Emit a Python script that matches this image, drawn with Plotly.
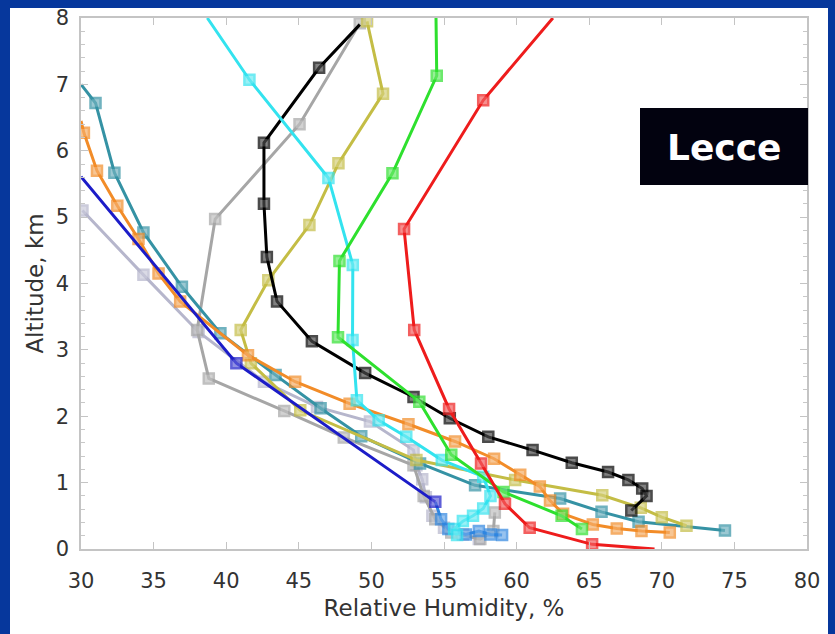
import plotly.graph_objects as go

# ---- data (relative humidity %, altitude km) ----
red_x = [62.5, 57.7, 52.25, 52.95, 55.35, 57.55, 59.2, 60.9, 65.2, 69.5]
red_y = [8.0, 6.76, 4.82, 3.3, 2.11, 1.29, 0.68, 0.32, 0.07, 0.0]

green_x = [54.45, 54.5, 51.45, 47.8, 47.7, 53.3, 55.5, 59.1, 63.1, 64.5]
green_y = [8.0, 7.13, 5.66, 4.34, 3.19, 2.22, 1.42, 0.86, 0.5, 0.3]

cyan_x = [38.7, 41.6, 47.04, 48.72, 48.7, 49.0, 50.5, 52.4, 54.85, 57.7, 58.2, 57.7, 57.0, 56.3, 55.7, 55.9]
cyan_y = [8.0, 7.07, 5.59, 4.28, 3.15, 2.24, 1.94, 1.69, 1.34, 1.09, 0.8, 0.61, 0.5, 0.42, 0.3, 0.21]

black_x = [49.2, 46.4, 42.6, 42.6, 42.8, 43.5, 45.9, 49.57, 52.9, 55.4, 58.05, 61.1, 63.8, 66.3, 67.7, 68.65, 68.95, 67.9]
black_y = [7.9, 7.25, 6.12, 5.2, 4.4, 3.73, 3.13, 2.65, 2.29, 1.97, 1.69, 1.49, 1.3, 1.16, 1.04, 0.91, 0.8, 0.58]

gray_x = [49.2, 45.05, 39.24, 38.0, 38.8, 44.0, 48.1, 52.9, 53.6, 54.4, 55.5, 57.5, 58.4, 58.5]
gray_y = [7.92, 6.4, 4.97, 3.3, 2.57, 2.08, 1.68, 1.26, 0.8, 0.45, 0.25, 0.15, 0.27, 0.55]

yellow_x = [49.7, 50.8, 47.73, 45.73, 42.9, 41.0, 41.7, 45.1, 53.1, 59.9, 65.9, 68.55, 70.0, 71.7]
yellow_y = [7.95, 6.86, 5.81, 4.88, 4.05, 3.3, 2.8, 2.09, 1.34, 1.04, 0.81, 0.62, 0.48, 0.35]

orange_x = [30.0, 30.2, 31.1, 32.5, 33.96, 35.34, 36.83, 41.5, 44.75, 48.5, 52.55, 55.76, 58.45, 60.25,
            61.6, 62.3, 63.2, 65.25, 66.9, 68.6, 70.55]
orange_y = [6.45, 6.27, 5.70, 5.17, 4.67, 4.15, 3.73, 2.92, 2.52, 2.19, 1.88, 1.62, 1.36, 1.12,
            0.94, 0.73, 0.53, 0.37, 0.31, 0.27, 0.25]

teal_x = [30.0, 31.0, 32.3, 34.3, 36.95, 39.6, 43.4, 46.5, 49.3, 53.35, 57.14, 63.0, 65.85, 68.4, 74.35]
teal_y = [7.0, 6.72, 5.67, 4.77, 3.95, 3.25, 2.62, 2.12, 1.7, 1.29, 0.96, 0.76, 0.56, 0.41, 0.28]

blue_x = [30.0, 40.7, 54.4]
blue_y = [5.61, 2.8, 0.71]

lightblue_x = [54.4, 54.8, 55.3, 56.5, 57.4, 58.2, 59.0]
lightblue_y = [0.71, 0.45, 0.3, 0.22, 0.27, 0.22, 0.21]

lavender_x = [30.1, 34.3, 38.1, 42.6, 46.25, 49.9, 52.9, 53.1, 53.5, 53.75, 54.2, 55.0, 56.3, 57.4]
lavender_y = [5.1, 4.13, 3.27, 2.52, 2.14, 1.92, 1.49, 1.26, 1.05, 0.78, 0.5, 0.32, 0.22, 0.15]

x_ticks = [30, 35, 40, 45, 50, 55, 60, 65, 70, 75, 80]
y_ticks = [0, 1, 2, 3, 4, 5, 6, 7, 8]

# name, x, y, colour, indices without marker (line end points on the frame)
series = [
    ("lavender", lavender_x, lavender_y, "#b6b6cc", []),
    ("gray", gray_x, gray_y, "#a6a6a6", []),
    ("teal", teal_x, teal_y, "#3592a4", [0]),
    ("yellow", yellow_x, yellow_y, "#c4bd45", []),
    ("orange", orange_x, orange_y, "#f28c28", [0]),
    ("lightblue", lightblue_x, lightblue_y, "#2f86e0", [0]),
    ("blue", blue_x, blue_y, "#1c1cc8", [0]),
    ("black", black_x, black_y, "#000000", [0]),
    ("cyan", cyan_x, cyan_y, "#33e3ef", [0]),
    ("green", green_x, green_y, "#2ee02e", [0]),
    ("red", red_x, red_y, "#ee1c1c", [0, len(red_x) - 1]),
]


def tint(hexc, f=0.3):
    r, g, b = int(hexc[1:3], 16), int(hexc[3:5], 16), int(hexc[5:7], 16)
    r, g, b = [int(c + (255 - c) * f) for c in (r, g, b)]
    return f"rgb({r},{g},{b})"


fig = go.Figure()
for name, xs, ys, col, nomark in series:
    sizes = [0 if i in nomark else 10 for i in range(len(xs))]
    fig.add_trace(go.Scatter(
        x=xs, y=ys, mode="lines+markers", name=name,
        line=dict(color=col, width=3),
        marker=dict(symbol="square", size=sizes, color=tint(col),
                    line=dict(color=col, width=2.5)),
        showlegend=False, cliponaxis=True,
    ))

# Plot-area frame coordinates
L, R, T, B = 81, 28, 18, 85
W, H = 835, 634
pw, ph = W - L - R, H - T - B


def px2paper_x(px):
    return (px - L) / pw


def px2paper_y(py):
    return 1 - (py - T) / ph


# white panel on the blue background
fig.add_shape(type="rect", xref="paper", yref="paper",
              x0=px2paper_x(10), x1=px2paper_x(828), y0=px2paper_y(640), y1=px2paper_y(8),
              fillcolor="white", line=dict(width=0), layer="below")

# "Lecce" label box
fig.add_shape(type="rect", xref="paper", yref="paper",
              x0=px2paper_x(640), x1=px2paper_x(808), y0=px2paper_y(185), y1=px2paper_y(108),
              fillcolor="#02020f", line=dict(width=0), layer="above")
fig.add_annotation(text="<b>Lecce</b>", xref="paper", yref="paper",
                   x=px2paper_x(724), y=px2paper_y(147), showarrow=False,
                   xanchor="center", yanchor="middle",
                   font=dict(family="DejaVu Sans", size=36, color="white"))

tick_font = dict(family="DejaVu Sans", size=21, color="#333333")
title_font = dict(family="DejaVu Sans", size=23, color="#333333")
fig.update_xaxes(range=[30, 80], tickvals=x_ticks, ticks="inside", ticklen=7,
                 tickcolor="#c4c4c4", showline=True, linecolor="#c4c4c4", linewidth=1.5,
                 mirror="ticks", showgrid=False, zeroline=False, tickfont=tick_font,
                 ticklabelstandoff=12,
                 title=dict(text="Relative Humidity, %", font=title_font, standoff=8))
fig.update_yaxes(range=[0, 8], tickvals=y_ticks, ticks="inside", ticklen=7,
                 tickcolor="#c4c4c4", showline=True, linecolor="#c4c4c4", linewidth=1.5,
                 mirror="ticks", showgrid=False, zeroline=False, tickfont=tick_font,
                 ticklabelstandoff=6,
                 minor=dict(dtick=0.2, ticks="inside", ticklen=4, tickcolor="#c8c8c8"),
                 title=dict(text="Altitude, km", font=title_font, standoff=6))

fig.update_layout(width=W, height=H, autosize=False,
                  margin=dict(l=L, r=R, t=T, b=B, autoexpand=False),
                  paper_bgcolor="#06379c", plot_bgcolor="white")

fig.write_html("out.html", config={"displayModeBar": False},
               post_script="document.body.style.margin='0';"
                           "document.body.style.background='#06379c';")
